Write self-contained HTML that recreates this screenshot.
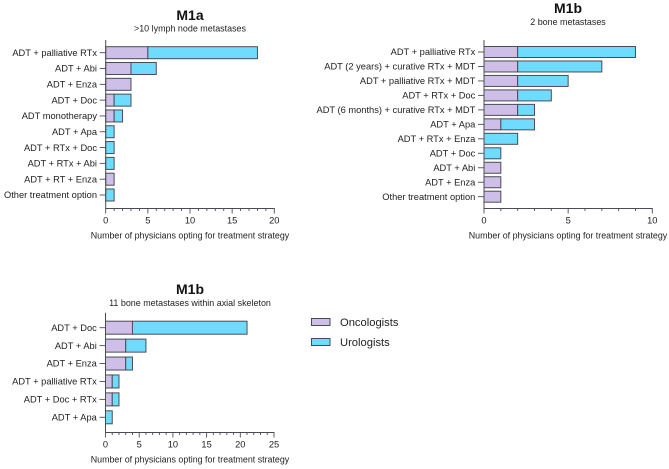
<!DOCTYPE html>
<html lang="en">
<head>
<meta charset="utf-8">
<title>Physician treatment strategies</title>
<style>
html,body{margin:0;padding:0;background:#fff;}
svg{display:block;font-family:"Liberation Sans",Arial,sans-serif;fill:#222;filter:blur(0.3px);}
</style>
</head>
<body>
<svg id="root" width="669" height="469" viewBox="0 0 669 469" xmlns="http://www.w3.org/2000/svg"></svg>
<script>
var m1aCategories = ["ADT + palliative RTx","ADT + Abi","ADT + Enza","ADT + Doc","ADT monotherapy","ADT + Apa","ADT + RTx + Doc","ADT + RTx + Abi","ADT + RT + Enza","Other treatment option"];
var m1aOncologists = [5,3,3,1,1,0,0,0,1,0];
var m1aUrologists = [13,3,0,2,1,1,1,1,0,1];
var m1aTicks = [0,5,10,15,20];

var m1b2Categories = ["ADT + palliative RTx","ADT (2 years) + curative RTx + MDT","ADT + palliative RTx + MDT","ADT + RTx + Doc","ADT (6 months) + curative RTx + MDT","ADT + Apa","ADT + RTx + Enza","ADT + Doc","ADT + Abi","ADT + Enza","Other treatment option"];
var m1b2Oncologists = [2,2,2,2,2,1,0,0,1,1,1];
var m1b2Urologists = [7,5,3,2,1,2,2,1,0,0,0];
var m1b2Ticks = [0,5,10];

var m1b11Categories = ["ADT + Doc","ADT + Abi","ADT + Enza","ADT + palliative RTx","ADT + Doc + RTx","ADT + Apa"];
var m1b11Oncologists = [4,3,3,1,1,0];
var m1b11Urologists = [17,3,1,1,1,1];
var m1b11Ticks = [0,5,10,15,20,25];

var svgNS = "http://www.w3.org/2000/svg";
var root = document.getElementById("root");
var OUTLINE = "#4b4b55";
var PURPLE = "#cdbfe8";
var CYAN = "#6fdcff";

function make(parent, tag, attrs, txt) {
  var el = document.createElementNS(svgNS, tag);
  for (var k in attrs) { el.setAttribute(k, attrs[k]); }
  if (txt !== undefined) { el.textContent = txt; }
  parent.appendChild(el);
  return el;
}

function drawChart(cfg) {
  var g = make(root, "g", {});
  
  
  var xMax = cfg.ticks[cfg.ticks.length - 1];
  function xScale(v) { return cfg.x0 + (cfg.x1 - cfg.x0) * v / xMax; }
  var step = cfg.cats.length > 1 ? (cfg.yLast - cfg.yFirst) / (cfg.cats.length - 1) : 0;
  function yScale(i) { return cfg.yFirst + step * i; }

  var title = make(g, "text", {x: cfg.titleX, y: cfg.titleY, "text-anchor": "middle", "font-size": "14", "font-weight": "bold", fill: "#111"}, cfg.title);
  
  
  var sub = make(g, "text", {x: cfg.titleX, y: cfg.subY, "text-anchor": "middle", "font-size": "8.95"}, cfg.subtitle);
  
  

  cfg.cats.forEach(function (c, i) {
    var y = yScale(i);
    var label = make(g, "text", {x: cfg.x0 - 8.7, y: y + 3.2, "text-anchor": "end", "font-size": "9.3"}, c);
    
    
    var tick = make(g, "line", {x1: cfg.x0 - 6, x2: cfg.x0, y1: y, y2: y, stroke: OUTLINE, "stroke-width": "0.9"});
    
    
    var on = cfg.onc[i], ur = cfg.uro[i];
    var top = y - cfg.barH / 2;
    if (on > 0) {
      var b1 = make(g, "rect", {x: xScale(0), y: top, width: xScale(on) - xScale(0), height: cfg.barH, fill: PURPLE, stroke: OUTLINE, "stroke-width": "1"});
      
      
    }
    if (ur > 0) {
      var b2 = make(g, "rect", {x: xScale(on), y: top, width: xScale(on + ur) - xScale(on), height: cfg.barH, fill: CYAN, stroke: OUTLINE, "stroke-width": "1"});
      
      
    }
  });

  var yAxis = make(g, "line", {x1: cfg.x0, x2: cfg.x0, y1: cfg.axisTop, y2: cfg.axisY, stroke: OUTLINE, "stroke-width": "1"});
  
  
  var xAxis = make(g, "line", {x1: cfg.x0 - 0.5, x2: cfg.x1 + 0.5, y1: cfg.axisY, y2: cfg.axisY, stroke: OUTLINE, "stroke-width": "1"});
  
  

  for (var v = 0; v <= xMax; v++) {
    var major = cfg.ticks.indexOf(v) >= 0;
    var t = make(g, "line", {x1: xScale(v), x2: xScale(v), y1: cfg.axisY, y2: cfg.axisY + (major ? 5 : 2.5), stroke: OUTLINE, "stroke-width": "0.9"});
    
    
  }
  cfg.ticks.forEach(function (v) {
    var tl = make(g, "text", {x: xScale(v), y: cfg.axisY + 15, "text-anchor": "middle", "font-size": "9.3"}, String(v));
    
    
  });
  var xt = make(g, "text", {x: cfg.titleX, y: cfg.axisY + 30, "text-anchor": "middle", "font-size": "8.87"}, "Number of physicians opting for treatment strategy");
  
  
}

drawChart({name: "chart-m1a-lymph-node", title: "M1a", subtitle: ">10 lymph node metastases", cats: m1aCategories, onc: m1aOncologists, uro: m1aUrologists, ticks: m1aTicks,
  x0: 105.7, x1: 274.3, yFirst: 52.7, yLast: 195, barH: 12, axisTop: 40, axisY: 208.5, titleX: 190, titleY: 20, subY: 31.5});
drawChart({name: "chart-m1b-two-bone", title: "M1b", subtitle: "2 bone metastases", cats: m1b2Categories, onc: m1b2Oncologists, uro: m1b2Urologists, ticks: m1b2Ticks,
  x0: 484, x1: 652.3, yFirst: 52, yLast: 196.7, barH: 11, axisTop: 40, axisY: 208.5, titleX: 568, titleY: 13, subY: 25});
drawChart({name: "chart-m1b-eleven-bone", title: "M1b", subtitle: "11 bone metastases within axial skeleton", cats: m1b11Categories, onc: m1b11Oncologists, uro: m1b11Urologists, ticks: m1b11Ticks,
  x0: 105.5, x1: 274, yFirst: 327.7, yLast: 417.3, barH: 13, axisTop: 312.7, axisY: 432.5, titleX: 190, titleY: 294, subY: 306});

var legend = make(root, "g", {});


var s1 = make(legend, "rect", {x: 311.5, y: 318.5, width: 18.5, height: 7, fill: PURPLE, stroke: OUTLINE, "stroke-width": "1"});


var l1 = make(legend, "text", {x: 340, y: 326, "font-size": "11.2"}, "Oncologists");


var s2 = make(legend, "rect", {x: 311.5, y: 338.5, width: 18.5, height: 7, fill: CYAN, stroke: OUTLINE, "stroke-width": "1"});


var l2 = make(legend, "text", {x: 340, y: 346, "font-size": "11.2"}, "Urologists");


</script>
</body>
</html>
